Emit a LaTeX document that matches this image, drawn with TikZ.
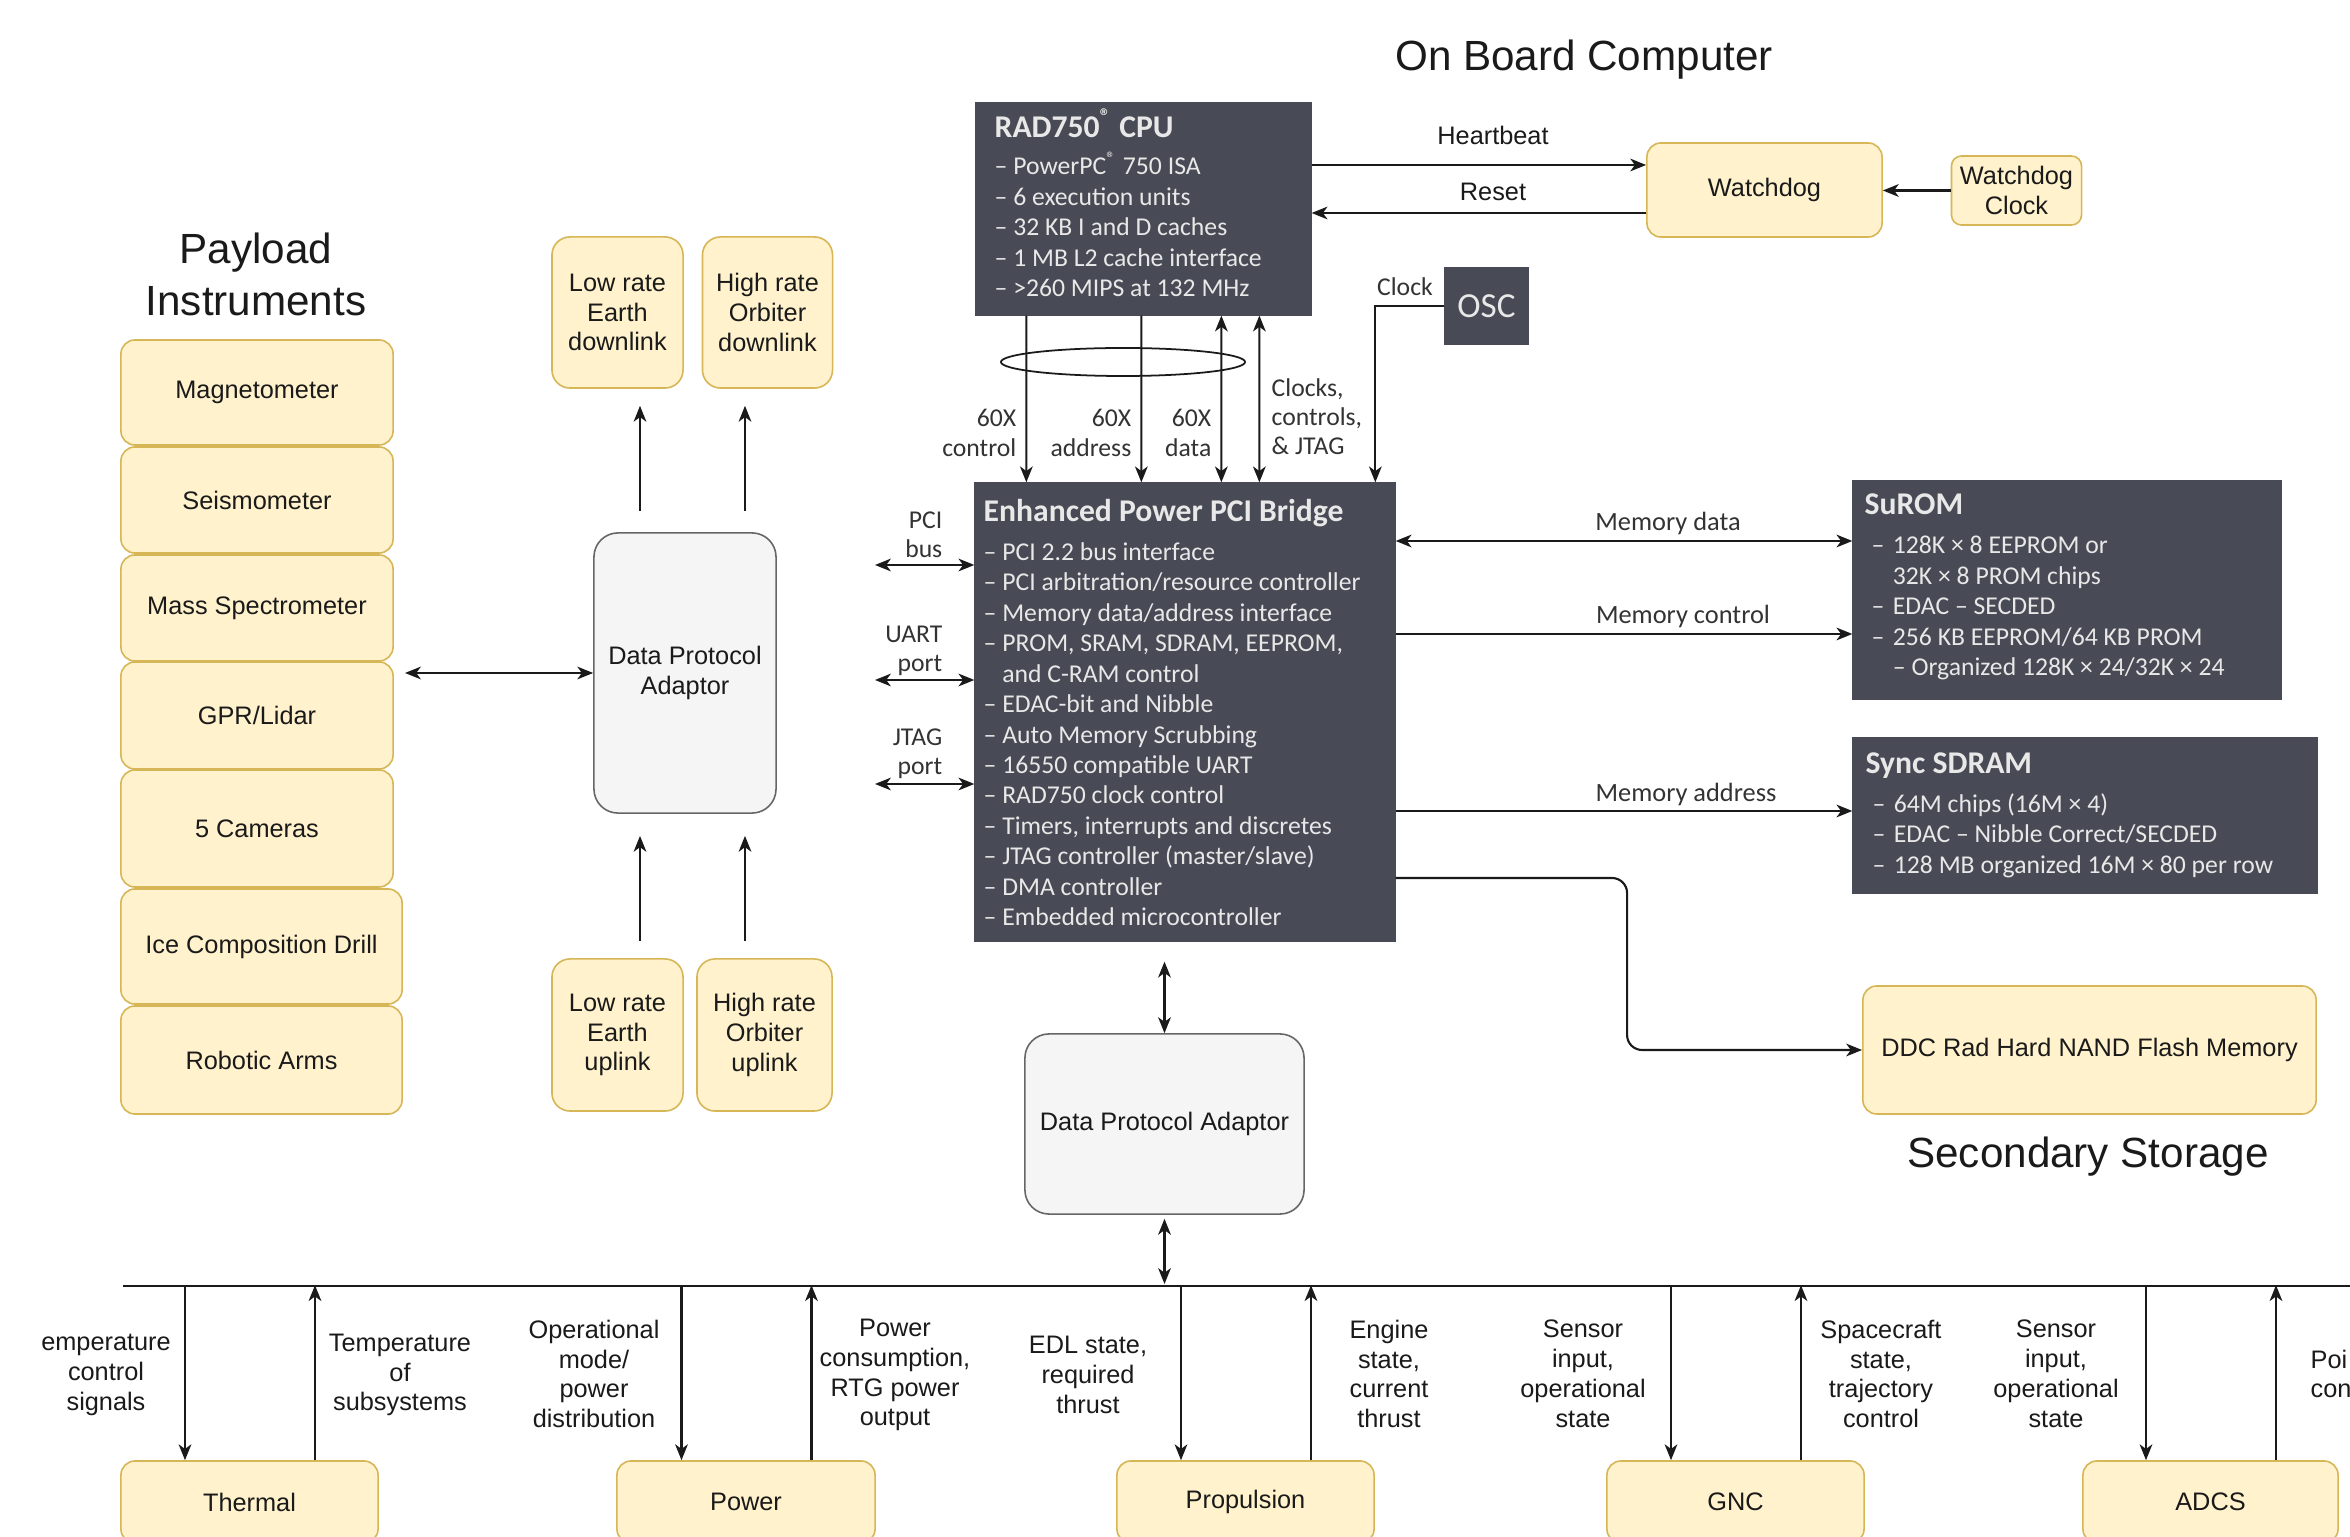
\documentclass[tikz,border=0pt]{standalone}
\usepackage{fontspec}
\setmainfont{Liberation Sans}
\newfontfamily\carl{Carlito}
\usetikzlibrary{arrows.meta,calc,shapes.geometric}
\definecolor{yfill}{HTML}{FFF2CC}
\definecolor{ydraw}{HTML}{D6B656}
\definecolor{gfill}{HTML}{F5F5F5}
\definecolor{gdraw}{HTML}{666666}
\definecolor{dfill}{HTML}{484B55}
\definecolor{dtext}{HTML}{E8E8E8}
\definecolor{ltext}{HTML}{333333}
\definecolor{txt}{HTML}{1A1A1A}
\definecolor{lnc}{HTML}{1A1A1A}
\newcommand\ttlfont{\fontsize{9}{8.65}\selectfont\bfseries}
\newcommand\dd{\makebox[1.1em][l]{\hspace{0.27em}–}}
\newcommand\ddi{\hspace*{1.1em}}
\tikzset{
 ybox/.style={draw=ydraw, fill=yfill, line width=0.45pt, rounded corners=0.14cm, align=center, inner sep=0pt, text=txt, font=\fontsize{7.2}{8.5}\selectfont},
 gbox/.style={ybox, draw=gdraw, fill=gfill, rounded corners=0.24cm},
 dbox/.style={fill=dfill, draw=dfill, line width=0.3pt, inner sep=0pt},
 dtxt/.style={font=\carl\fontsize{7.3}{8.65}\selectfont, text=dtext, align=left, inner sep=0pt, anchor=west},
 dlbl/.style={font=\carl\fontsize{7.3}{8.3}\selectfont, text=ltext, inner sep=0pt},
 blbl/.style={font=\fontsize{7.2}{8.5}\selectfont, text=txt, align=center, inner sep=0pt},
 ttl/.style={font=\fontsize{12}{14.8}\selectfont, text=txt, align=center, inner sep=0pt},
 conn/.style={draw=lnc, line width=0.6pt, -{Stealth[length=4.5pt,width=3.6pt,inset=1.3pt]}},
 dconn/.style={draw=lnc, line width=0.6pt, {Stealth[length=4.5pt,width=3.6pt,inset=1.3pt]}-{Stealth[length=4.5pt,width=3.6pt,inset=1.3pt]}},
}
\begin{document}
\begin{tikzpicture}[x=0.01cm,y=-0.01cm]
\useasboundingbox (0,0) rectangle (2350,1537);
\clip (0,0) rectangle (2350,1537);
\fill[white] (0,0) rectangle (2350,1537);

% titles
\node[ttl] (obc) at (1584,60) {On Board Computer};
\node[ttl] (pay) at (256,274) {Payload\\Instruments};
\node[ttl] (sec) at (2088,1157) {Secondary Storage};

% payload instruments
\node[ybox, minimum width=2.72cm, minimum height=1.05cm] (mag) at (257,392.5) {Magnetometer};
\node[ybox, minimum width=2.72cm, minimum height=1.06cm] (seis) at (257,500) {Seismometer};
\node[ybox, minimum width=2.72cm, minimum height=1.06cm] (mass) at (257,608) {Mass Spectrometer};
\node[ybox, minimum width=2.72cm, minimum height=1.07cm] (gpr) at (257,715.5) {GPR/Lidar};
\node[ybox, minimum width=2.72cm, minimum height=1.17cm] (cam) at (257,828.5) {5 Cameras};
\node[ybox, minimum width=2.81cm, minimum height=1.15cm] (ice) at (261.5,946.5) {Ice Composition Drill};
\node[ybox, minimum width=2.81cm, minimum height=1.08cm] (arms) at (261.5,1060) {Robotic Arms};

% comms
\node[ybox, rounded corners=0.18cm, minimum width=1.31cm, minimum height=1.51cm] (dn1) at (617.5,312.5) {Low rate\\Earth\\downlink};
\node[ybox, rounded corners=0.18cm, minimum width=1.30cm, minimum height=1.51cm] (dn2) at (767.5,312.5) {High rate\\Orbiter\\downlink};
\node[ybox, rounded corners=0.18cm, minimum width=1.31cm, minimum height=1.52cm] (up1) at (617.5,1035) {Low rate\\Earth\\uplink};
\node[ybox, rounded corners=0.18cm, minimum width=1.35cm, minimum height=1.52cm] (up2) at (764.5,1035) {High rate\\Orbiter\\uplink};
\node[gbox, minimum width=1.82cm, minimum height=2.80cm] (dpa1) at (685,673) {Data Protocol\\Adaptor};

% watchdog
\node[ybox, minimum width=2.35cm, minimum height=0.94cm] (wd) at (1764.5,190) {Watchdog};
\node[ybox, rounded corners=0.1cm, minimum width=1.30cm, minimum height=0.69cm] (wdc) at (2016.5,190.5) {Watchdog\\Clock};

% dark boxes
\node[dbox, minimum width=3.35cm, minimum height=2.12cm] (cpu) at (1143.5,209) {};
\node[dtxt] (cput) at (994,203) {{\ttlfont RAD750\textsuperscript{®} CPU}\\[2pt]
– PowerPC\textsuperscript{®} 750 ISA\\
– 6 execution units\\
– 32 KB I and D caches\\
– 1 MB L2 cache interface\\
– >260 MIPS at 132 MHz};

\node[dbox, minimum width=0.83cm, minimum height=0.76cm, text=dtext, font=\carl\fontsize{10}{12}\selectfont] (osc) at (1486.5,306) {OSC};

\node[dbox, minimum width=4.20cm, minimum height=4.58cm] (br) at (1185,712) {};
\node[dtxt] (brt) at (983,712.5) {{\ttlfont Enhanced Power PCI Bridge}\\[2.45pt]
– PCI 2.2 bus interface\\
– PCI arbitration/resource controller\\
– Memory data/address interface\\
– PROM, SRAM, SDRAM, EEPROM,\\
\phantom{– }and C-RAM control\\
– EDAC-bit and Nibble\\
– Auto Memory Scrubbing\\
– 16550 compatible UART\\
– RAD750 clock control\\
– Timers, interrupts and discretes\\
– JTAG controller (master/slave)\\
– DMA controller\\
– Embedded microcontroller};

\node[dbox, minimum width=4.28cm, minimum height=2.18cm] (surom) at (2067,590) {};
\node[dtxt] (surt) at (1864,587) {{\ttlfont SuROM}\\[2.45pt]
\dd 128K × 8 EEPROM or\\
\ddi 32K × 8 PROM chips\\
\dd EDAC – SECDED\\
\dd 256 KB EEPROM/64 KB PROM\\
\ddi – Organized 128K × 24/32K × 24};

\node[dbox, minimum width=4.64cm, minimum height=1.55cm] (sdram) at (2085,815.5) {};
\node[dtxt] (sdrt) at (1865,815) {{\ttlfont Sync SDRAM}\\[2.45pt]
\dd 64M chips (16M × 4)\\
\dd EDAC – Nibble Correct/SECDED\\
\dd 128 MB organized 16M × 80 per row};

\node[ybox, minimum width=4.53cm, minimum height=1.28cm] (ddc) at (2089.5,1050) {DDC Rad Hard NAND Flash Memory};
\node[gbox, minimum width=2.79cm, minimum height=1.80cm] (dpa2) at (1164.5,1124) {Data Protocol Adaptor};

% bottom subsystems
\node[ybox, minimum width=2.57cm, minimum height=0.82cm] (therm) at (249.5,1502) {Thermal};
\node[ybox, minimum width=2.58cm, minimum height=0.82cm] (pow) at (746,1502) {Power};
\node[ybox, minimum width=2.57cm, minimum height=0.82cm] (prop) at (1245.5,1502) {Propulsion};
\node[ybox, minimum width=2.57cm, minimum height=0.82cm] (gnc) at (1735.5,1502) {GNC};
\node[ybox, minimum width=2.55cm, minimum height=0.82cm] (adcs) at (2210.5,1502) {ADCS};

% ---- connectors ----
% watchdog
\draw[conn] ($(cpu.east)+(0,-44)$) -- ($(wd.west)+(0,-25)$);
\draw[conn] ($(wd.west)+(0,23)$) -- ($(cpu.east)+(0,4)$);
\draw[conn] (wdc.west) -- (wdc.west -| wd.east);
\node[blbl] (hb) at (1493,135) {Heartbeat};
\node[blbl] (rst) at (1493,192) {Reset};

% clock
\draw[conn] (osc.west) -| ($(br.north west)+(401,0)$);
\node[dlbl] (clk) at (1405,287) {Clock};

% CPU - bridge
\draw[conn] ($(cpu.south west)+(51,0)$) -- ($(br.north west)+(52,0)$);
\draw[conn] ($(cpu.south west)+(166,0)$) -- ($(br.north west)+(167,0)$);
\draw[dconn] ($(cpu.south west)+(246,0)$) -- ($(br.north west)+(247,0)$);
\draw[dconn] ($(cpu.south west)+(284,0)$) -- ($(br.north west)+(285,0)$);
\node[draw=lnc, line width=0.5pt, ellipse, minimum width=2.44cm, minimum height=0.28cm, inner sep=0pt] (bus60x) at (1123,362) {};
\node[dlbl, anchor=east, align=right] (l60c) at (1017,433) {60X\\control};
\node[dlbl, anchor=east, align=right] (l60a) at (1132,433) {60X\\address};
\node[dlbl, anchor=east, align=right] (l60d) at (1212,433) {60X\\data};
\node[dlbl, anchor=west, align=left] (lcc) at (1271,417) {Clocks,\\controls,\\\& JTAG};

% left ports
\coordinate (pciL) at (875,565);
\coordinate (uartL) at (875,680);
\coordinate (jtagL) at (875,784);
\draw[dconn] (pciL) -- (pciL -| br.west);
\draw[dconn] (uartL) -- (uartL -| br.west);
\draw[dconn] (jtagL) -- (jtagL -| br.west);
\node[dlbl, anchor=east, align=right] (lpci) at (943,535) {PCI\\bus};
\node[dlbl, anchor=east, align=right] (luart) at (943,651) {UART\\port};
\node[dlbl, anchor=east, align=right] (ljtag) at (943,754) {JTAG\\port};

% memory
\coordinate (md) at ($(br.east)+(0,-171)$);
\coordinate (mc) at ($(br.east)+(0,-78)$);
\coordinate (ma) at ($(br.east)+(0,99)$);
\coordinate (mf) at ($(br.east)+(0,166)$);
\draw[dconn] (md) -- (md -| surom.west);
\draw[conn] (mc) -- (mc -| surom.west);
\draw[conn] (ma) -- (ma -| sdram.west);
\draw[conn, rounded corners=0.15cm] (mf) -| ($(ddc.west)+(-235,0)$) -- (ddc.west);
\node[dlbl, font=\carl\fontsize{7.5}{9}\selectfont] (lmd) at (1668,523) {Memory data};
\node[dlbl, font=\carl\fontsize{7.5}{9}\selectfont] (lmc) at (1683,616) {Memory control};
\node[dlbl, font=\carl\fontsize{7.5}{9}\selectfont] (lma) at (1686,794) {Memory address};

% payload / comms
\coordinate (pl) at (405,673);
\draw[dconn] (pl) -- (pl -| dpa1.west);
\draw[conn, shorten <=0.21cm, shorten >=0.17cm] ($(dpa1.north)+(-45,0)$) -- ($(dn1.south)+(22.5,0)$);
\draw[conn, shorten <=0.21cm, shorten >=0.17cm] ($(dpa1.north)+(60,0)$) -- ($(dn2.south)+(-22.5,0)$);
\draw[conn, shorten <=0.17cm, shorten >=0.22cm] ($(up1.north)+(22.5,0)$) -- ($(dpa1.south)+(-45,0)$);
\draw[conn, shorten <=0.17cm, shorten >=0.22cm] ($(up2.north)+(-19.5,0)$) -- ($(dpa1.south)+(60,0)$);

% bus
\coordinate (busL) at (123,1286);
\coordinate (busR) at (2350,1286);
\draw[draw=lnc, line width=0.6pt] (busL) -- (busR);
\draw[dconn, shorten <=0.2cm] (dpa2.north |- br.south) -- (dpa2.north);
\draw[dconn, shorten <=0.04cm, shorten >=0.02cm] (dpa2.south) -- (dpa2.south |- busL);
\foreach \n in {therm,pow,prop,gnc,adcs}{
  \draw[conn] ($(\n.north)+(-64.5,-175)$) -- ($(\n.north)+(-64.5,0)$);
  \draw[conn] ($(\n.north)+(65.5,0)$) -- ($(\n.north)+(65.5,-175)$);
}

% bottom labels
\node[blbl] (t1) at (106,1375) {emperature\\control\\signals};
\node[blbl] (t2) at (400,1375) {Temperature\\of\\subsystems};
\node[blbl] (p1) at (594,1374) {Operational\\mode/\\power\\distribution};
\node[blbl] (p2) at (895,1375) {Power\\consumption,\\RTG power\\output};
\node[blbl] (r1) at (1088,1375) {EDL state,\\required\\thrust};
\node[blbl] (r2) at (1389,1374) {Engine\\state,\\current\\thrust};
\node[blbl] (g1) at (1583,1374) {Sensor\\input,\\operational\\state};
\node[blbl] (g2) at (1881,1374) {Spacecraft\\state,\\trajectory\\control};
\node[blbl] (a1) at (2056,1374) {Sensor\\input,\\operational\\state};
\node[blbl, anchor=west, align=left] (a2) at (2310,1374) {Poi\\con};
\end{tikzpicture}
\end{document}
